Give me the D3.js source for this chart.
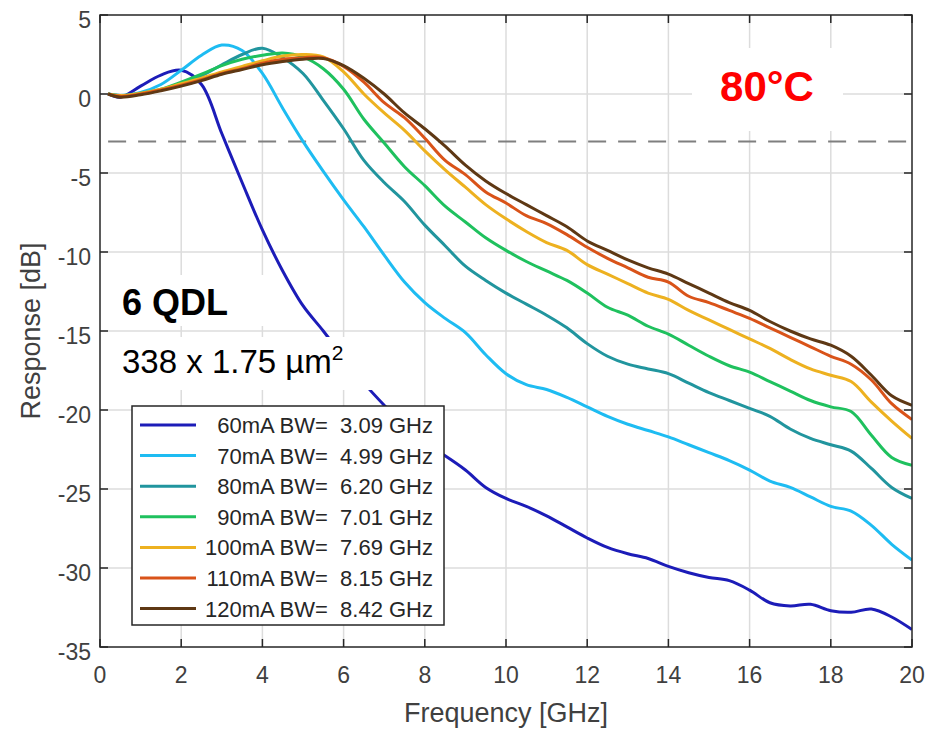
<!DOCTYPE html>
<html>
<head>
<meta charset="utf-8">
<script src="https://cdn.jsdelivr.net/npm/d3@7"></script>
<style>
  body { margin: 0; background: #fff; }
  svg { display: block; font-family: "Liberation Sans", Arial, sans-serif; }
</style>
</head>
<body>
<script>
// frequency grid [GHz]
const freq = [0.2, 0.5, 1, 1.5, 2, 2.5, 3, 3.5, 4, 4.5, 5, 5.5, 6, 6.5, 7, 7.5, 8, 8.5, 9, 9.5,
  10, 10.5, 11, 11.5, 12, 12.5, 13, 13.5, 14, 14.5, 15, 15.5, 16, 16.5, 17, 17.5, 18, 18.5, 19, 19.5, 20];

// response [dB] for each bias current
const r60 = [0, -0.2, 0.5, 1.2, 1.5, 0.6, -2.5, -5.6, -8.6, -11.2, -13.4, -15.0, -16.7, -18.3, -19.7, -21.0, -22.1, -22.9, -23.8, -24.9,
  -25.6, -26.1, -26.7, -27.4, -28.1, -28.7, -29.1, -29.4, -29.9, -30.3, -30.6, -30.8, -31.4, -32.2, -32.4, -32.3, -32.7, -32.8, -32.6, -33.1, -33.9];
const r70 = [0, -0.1, 0.1, 0.6, 1.5, 2.45, 3.1, 2.75, 1.3, -0.9, -3.0, -4.9, -6.7, -8.4, -10.2, -11.9, -13.2, -14.2, -15.1, -16.5,
  -17.7, -18.4, -18.7, -19.2, -19.8, -20.4, -20.9, -21.3, -21.7, -22.2, -22.7, -23.2, -23.8, -24.5, -24.9, -25.5, -26.1, -26.4, -27.3, -28.5, -29.5];
const r80 = [0, -0.1, 0.0, 0.25, 0.6, 1.15, 1.85, 2.5, 2.9, 2.3, 1.3, -0.4, -2.2, -4.2, -5.6, -6.8, -8.3, -9.6, -10.9, -11.8,
  -12.6, -13.3, -14.0, -14.8, -15.8, -16.6, -17.1, -17.4, -17.7, -18.3, -18.9, -19.4, -19.9, -20.4, -21.2, -21.8, -22.2, -22.6, -23.7, -24.9, -25.6];
const r90 = [0, -0.1, 0.05, 0.3, 0.75, 1.25, 1.8, 2.2, 2.45, 2.6, 2.35, 1.6, 0.3, -1.6, -3.1, -4.6, -5.8, -7.1, -8.1, -9.1,
  -9.9, -10.6, -11.2, -11.8, -12.6, -13.5, -14.0, -14.7, -15.2, -15.9, -16.6, -17.2, -17.6, -18.2, -18.8, -19.4, -19.8, -20.1, -21.6, -23.0, -23.5];
const r100 = [0, -0.1, 0.05, 0.3, 0.65, 1.0, 1.4, 1.75, 2.1, 2.4, 2.5, 2.35, 1.4, 0.0, -1.2, -2.3, -3.6, -4.8, -5.9, -7.0,
  -7.9, -8.7, -9.4, -9.9, -10.8, -11.4, -12.0, -12.6, -13.0, -13.7, -14.3, -14.9, -15.5, -16.1, -16.8, -17.4, -17.8, -18.2, -19.5, -20.7, -21.8];
const r110 = [0, -0.15, 0.0, 0.25, 0.55, 0.9, 1.3, 1.6, 1.95, 2.2, 2.3, 2.3, 1.75, 0.75, -0.55, -1.5, -2.8, -4.2, -5.1, -6.2,
  -6.9, -7.7, -8.2, -8.9, -9.7, -10.4, -11.0, -11.6, -11.9, -12.8, -13.2, -13.7, -14.2, -14.8, -15.4, -16.0, -16.6, -17.1, -18.1, -19.6, -20.6];
const r120 = [0, -0.2, -0.05, 0.2, 0.5, 0.85, 1.25, 1.55, 1.85, 2.05, 2.2, 2.25, 1.8, 1.0, 0.0, -1.2, -2.2, -3.3, -4.5, -5.5,
  -6.3, -7.0, -7.7, -8.4, -9.3, -9.9, -10.5, -11.0, -11.4, -12.0, -12.6, -13.2, -13.7, -14.4, -15.0, -15.5, -15.9, -16.6, -17.8, -19.1, -19.7];

const currents = ["60mA", "70mA", "80mA", "90mA", "100mA", "110mA", "120mA"];
const bandwidths = ["3.09", "4.99", "6.20", "7.01", "7.69", "8.15", "8.42"];
const colors = ["#1c1cb8", "#1ebcf2", "#21959e", "#1fc15e", "#edb120", "#d95319", "#5e3814"];
const responses = [r60, r70, r80, r90, r100, r110, r120];

const xTicks = [0, 2, 4, 6, 8, 10, 12, 14, 16, 18, 20];
const yTicks = [5, 0, -5, -10, -15, -20, -25, -30, -35];
const cutoff = -3;

const width = 928, height = 731;
const mLeft = 100, mRight = 912, mTop = 15, mBottom = 647;

const svg = d3.select("body").append("svg")
  .attr("width", width)
  .attr("height", height);

const x = d3.scaleLinear().domain([0, 20]).range([mLeft, mRight]);
const y = d3.scaleLinear().domain([-35, 5]).range([mBottom, mTop]);

// grid
const grid = svg.append("g").attr("stroke", "#dcdcdc").attr("stroke-width", 1.5);
grid.selectAll(".vg").data(xTicks.slice(1, -1)).enter().append("line")
  .attr("x1", d => x(d)).attr("x2", d => x(d)).attr("y1", mTop).attr("y2", mBottom);
grid.selectAll(".hg").data(yTicks.slice(1, -1)).enter().append("line")
  .attr("y1", d => y(d)).attr("y2", d => y(d)).attr("x1", mLeft).attr("x2", mRight);

// -3 dB reference
svg.append("line")
  .attr("x1", x(freq[0])).attr("x2", x(20))
  .attr("y1", y(cutoff)).attr("y2", y(cutoff))
  .attr("stroke", "#7f7f7f").attr("stroke-width", 2)
  .attr("stroke-dasharray", "18,12");

svg.append("clipPath").attr("id", "plot")
  .append("rect").attr("x", mLeft).attr("y", mTop)
  .attr("width", mRight - mLeft).attr("height", mBottom - mTop);

const line = d3.line()
  .x((d, i) => x(freq[i]))
  .y(d => y(d))
  .curve(d3.curveCatmullRom.alpha(0.5));

svg.append("g").attr("clip-path", "url(#plot)")
  .selectAll("path").data(responses).enter().append("path")
  .attr("d", line)
  .attr("fill", "none")
  .attr("stroke", (d, i) => colors[i])
  .attr("stroke-width", 3)
  .attr("stroke-linejoin", "round");

// annotation boxes (white background, like MATLAB text boxes)
svg.append("rect").attr("x", 692).attr("y", 48).attr("width", 151).attr("height", 83).attr("fill", "#fff");
svg.append("text").attr("x", 767).attr("y", 101)
  .attr("text-anchor", "middle").attr("font-size", 42).attr("font-weight", "bold")
  .attr("fill", "#ff0000").text("80°C");

svg.append("rect").attr("x", 101).attr("y", 275).attr("width", 177).attr("height", 51).attr("fill", "#fff");
svg.append("text").attr("x", 122).attr("y", 315)
  .attr("font-size", 36).attr("font-weight", "bold").attr("fill", "#000").text("6 QDL");

svg.append("rect").attr("x", 101).attr("y", 337).attr("width", 271).attr("height", 53).attr("fill", "#fff");
const area = svg.append("text").attr("x", 122).attr("y", 373)
  .attr("font-size", 33).attr("fill", "#000");
area.append("tspan").text("338 x 1.75 µm");
area.append("tspan").attr("font-size", 21).attr("dy", -13).text("2");

// axes frame and ticks
const ax = svg.append("g").attr("stroke", "#262626").attr("stroke-width", 1.5);
ax.append("rect").attr("x", mLeft).attr("y", mTop).attr("width", mRight - mLeft).attr("height", mBottom - mTop)
  .attr("fill", "none");
ax.selectAll(".xt").data(xTicks).enter().append("path")
  .attr("d", d => `M${x(d)},${mBottom}v-8M${x(d)},${mTop}v8`);
ax.selectAll(".yt").data(yTicks).enter().append("path")
  .attr("d", d => `M${mLeft},${y(d)}h8M${mRight},${y(d)}h-8`);

svg.append("g").selectAll("text").data(xTicks).enter().append("text")
  .attr("x", d => x(d)).attr("y", mBottom + 36)
  .attr("text-anchor", "middle").attr("font-size", 23).attr("fill", "#404040")
  .text(d => d);
svg.append("g").selectAll("text").data(yTicks).enter().append("text")
  .attr("x", mLeft - 9).attr("y", d => y(d) + 13)
  .attr("text-anchor", "end").attr("font-size", 23).attr("fill", "#404040")
  .text(d => d);

svg.append("text").attr("x", (mLeft + mRight) / 2).attr("y", 722)
  .attr("text-anchor", "middle").attr("font-size", 27).attr("fill", "#404040")
  .text("Frequency [GHz]");
svg.append("text")
  .attr("transform", `translate(40,${(mTop + mBottom) / 2}) rotate(-90)`)
  .attr("text-anchor", "middle").attr("font-size", 27).attr("fill", "#404040")
  .text("Response [dB]");

// legend
const legend = svg.append("g");
legend.append("rect").attr("x", 132).attr("y", 406).attr("width", 312).attr("height", 219)
  .attr("fill", "#fff").attr("stroke", "#262626").attr("stroke-width", 1.5);
const rows = legend.selectAll("g.row").data(currents).enter().append("g")
  .attr("transform", (d, i) => `translate(0,${425 + i * 30.6})`);
rows.append("line").attr("x1", 140).attr("x2", 196)
  .attr("stroke", (d, i) => colors[i]).attr("stroke-width", 3);
rows.append("text").attr("x", 433).attr("y", 8)
  .attr("text-anchor", "end").attr("font-size", 22).attr("fill", "#262626")
  .attr("xml:space", "preserve").style("white-space", "pre")
  .text((d, i) => `${d} BW=  ${bandwidths[i]} GHz`);
</script>
</body>
</html>
